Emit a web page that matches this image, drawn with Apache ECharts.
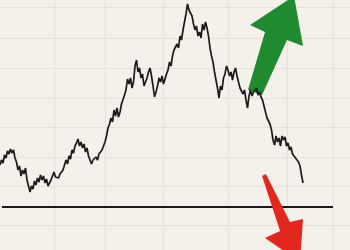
<!DOCTYPE html>
<html>
<head>
<meta charset="utf-8">
<script src="https://cdn.jsdelivr.net/npm/echarts@6/dist/echarts.min.js"></script>
<style>html,body{margin:0;padding:0;background:#f4f0ea;}#c{width:350px;height:250px;}</style>
</head>
<body>
<div id="c"></div>
<script>
// price series, one value per day
const prices = [
85,90,87,95,92,99,96,101,97,100,
92,88,80,84,74,80,76,82,70,64,
58,64,61,69,65,72,68,75,70,74,
67,71,64,62,70,74,78,73,75,72,
76,74,80,85,90,86,94,91,100,97,
104,107,111,104,108,102,106,98,102,94,
92,86,90,88,93,90,96,94,100,104,
108,114,122,126,132,128,140,134,142,133,
138,146,144,155,160,171,166,172,162,168,
184,190,178,182,172,176,164,162,172,178,
182,174,164,153,158,164,172,168,174,166,
168,176,180,188,184,194,200,198,206,202,
214,210,220,228,236,246,240,242,234,226,
220,224,214,218,212,226,220,228,222,214,
202,194,188,178,170,162,152,164,160,172,
176,184,180,174,178,170,178,182,174,168,
162,164,156,160,150,142,154,160,154,158,
156,162,155,158,153,150,144,138,132,134,
126,120,110,105,114,108,112,104,114,110,
113,104,107,100,103,96,98,92,94,88,
84,75,67
];
// grid line positions (day / value)
const gridDays = [36, 70, 108.7, 152, 191.3, 222];
const gridValues = [243, 212, 182, 152, 123, 93, 64, 25];
// baseline level
const baseLevel = 43;
const baseFrom = 1.3, baseTo = 222;
// arrows (day, value) outlines
const upArrow = [[165.3,160],[176.7,218],[166.7,225],[196,254],[202,204],[191.3,210],[174.7,155]];
const downArrow = [[174.7,74],[177.3,76],[193.3,28],[202,31],[200,-12],[176.7,12],[186.7,19]];
const arrowColors = ['#1f8a2e', '#e2271e'];

const chart = echarts.init(document.getElementById('c'), null, {renderer:'canvas'});
const seriesData = prices.map((v,i)=>[i,v]);
const arrows = [upArrow, downArrow];

chart.setOption({
  backgroundColor: '#f4f0ea',
  animation: false,
  grid: {left:0, right:0, top:0, bottom:0},
  xAxis: {type:'value', min:0, max:233.33, show:false},
  yAxis: {type:'value', min:0, max:250, show:false},
  series: [
    {
      type:'line', data:[], z:1, silent:true,
      markLine: {
        z:1, silent:true, symbol:'none', animation:false,
        label:{show:false},
        lineStyle:{color:'#e7e1d9', width:1, type:'solid'},
        data: gridDays.map(d=>({xAxis:d})).concat(gridValues.map(v=>({yAxis:v})))
      }
    },
    {
      type:'line', data:[], z:2, silent:true,
      markLine: {
        z:2, silent:true, symbol:'none', animation:false,
        label:{show:false},
        lineStyle:{color:'#1a1a1a', width:2, type:'solid'},
        data: [[{coord:[baseFrom, baseLevel]},{coord:[baseTo, baseLevel]}]]
      }
    },
    {
      type:'custom', z:10, silent:true, clip:false,
      data: arrows.map((a,i)=>[i]),
      renderItem: function(params, api){
        const idx = params.dataIndex;
        const pts = arrows[idx].map(p=>api.coord(p));
        return {type:'polygon', shape:{points:pts}, style:{fill:arrowColors[idx]}};
      }
    },
    {
      type:'line', z:11, data: seriesData, showSymbol:false, symbol:'none',
      lineStyle:{color:'#1c1c1c', width:1.7},
      silent:true
    }
  ]
});
</script>
</body>
</html>
